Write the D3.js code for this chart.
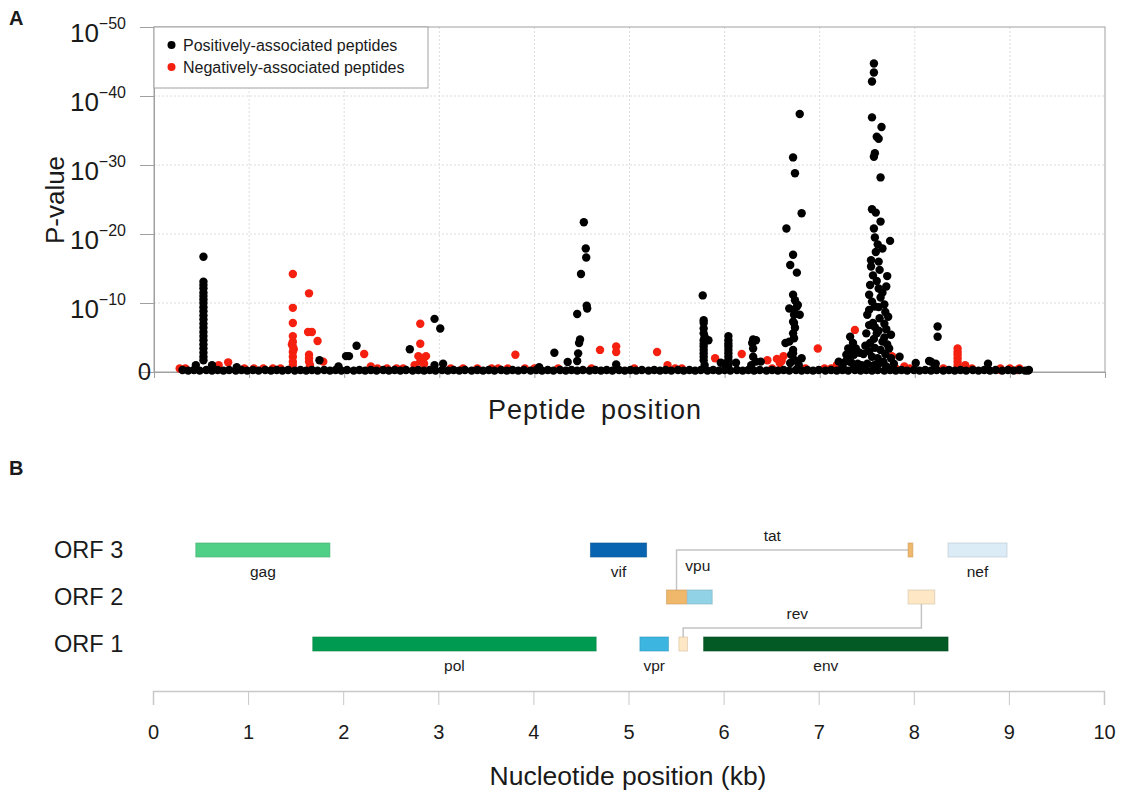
<!DOCTYPE html>
<html>
<head>
<meta charset="utf-8">
<script src="https://cdn.jsdelivr.net/npm/d3@7"></script>
<style>
  body { margin: 0; background: #fff; }
  svg text { font-family: "Liberation Sans", Arial, sans-serif; fill: #1a1a1a; }
</style>
</head>
<body>
<svg id="chart" width="1128" height="797"></svg>
<script>
// Panel A data: [peptide position (kb), -log10 P]
const positivePeaks = [
  [0.52,16.7],[0.52,13.1],[0.52,12.6],[0.52,12.1],[0.52,11.5],[0.52,11.0],[0.52,10.5],[0.52,10.0],
  [0.52,9.4],[0.52,8.8],[0.52,8.2],[0.52,7.6],[0.52,7.0],[0.52,6.4],[0.52,5.8],[0.52,5.2],[0.52,4.6],
  [0.52,4.0],[0.52,3.4],[0.52,2.8],[0.52,2.2],[0.52,1.7],[0.44,1.0],[0.61,1.0],[0.87,0.7],
  [1.74,1.7],[1.94,0.8],[2.02,2.3],[2.05,2.3],[2.13,3.8],[2.69,3.3],[2.95,7.7],[3.01,6.3],[2.95,1.0],[3.04,1.2],
  [4.05,0.7],[4.21,2.8],[4.35,1.45],[4.52,21.7],[4.54,17.9],[4.545,16.6],[4.49,14.2],[4.55,9.6],[4.555,9.2],
  [4.45,8.4],[4.48,4.7],[4.47,4.2],[4.46,2.7],[4.45,1.6],[4.86,1.1],
  [5.77,11.1],[5.78,7.5],[5.78,7.1],[5.78,6.3],[5.78,5.6],[5.79,5.1],[5.83,4.6],[5.78,4.6],[5.78,4.1],
  [5.78,3.7],[5.78,3.2],[5.78,2.7],[5.78,2.2],[5.78,1.7],[5.79,1.0],[5.96,1.35],
  [6.04,5.2],[6.04,4.6],[6.04,4.1],[6.04,3.7],[6.04,3.2],[6.04,2.7],[6.04,2.2],[6.04,1.7],[6.04,1.0],
  [6.12,1.35],[6.00,1.2],
  [6.30,4.7],[6.33,4.6],[6.29,4.2],[6.30,3.4],[6.30,2.2],[6.28,1.0],[6.38,1.5],[6.33,1.5],
  [6.79,37.4],[6.72,31.1],[6.74,28.8],[6.81,23.0],[6.65,20.8],[6.72,17.0],[6.69,15.5],[6.76,14.4],
  [6.72,11.2],[6.74,10.4],[6.77,9.7],[6.76,9.5],[6.68,9.2],[6.73,9.0],[6.79,8.3],[6.73,8.3],[6.72,7.3],
  [6.73,7.1],[6.74,6.4],[6.72,5.6],[6.73,4.9],[6.68,4.4],[6.64,4.2],[6.72,3.2],[6.70,2.5],[6.81,2.0],
  [6.74,1.7],[6.69,1.3],[6.78,1.0],[6.72,2.7],[7.20,1.5],
  [7.57,44.7],[7.57,43.4],[7.55,42.1],[7.55,36.9],[7.65,35.5],[7.60,34.1],[7.62,33.8],[7.58,31.7],
  [7.57,31.2],[7.64,28.2],[7.55,23.6],[7.59,23.1],[7.64,21.8],[7.57,20.8],[7.74,19.0],[7.66,17.9],
  [7.59,17.4],[7.54,16.2],[7.62,16.0],[7.63,14.8],[7.54,15.3],[7.71,13.9],[7.53,12.6],[7.62,12.1],
  [7.70,12.4],[7.52,11.2],[7.64,10.8],[7.58,9.5],[7.62,9.4],[7.69,8.7],[7.72,8.0],[7.50,8.3],[7.56,7.1],
  [7.68,7.0],[7.75,5.4],[7.49,5.6],[7.60,5.6],[7.66,4.4],[7.53,4.2],[7.64,3.2],[7.73,3.4],[7.84,2.2],
  [7.61,2.0],[7.46,2.6],[7.67,1.5],[7.57,1.0],[7.70,0.8],[7.78,1.2],
  [7.58,19.5],[7.61,18.5],[7.56,14.0],[7.60,13.2],[7.66,11.5],[7.55,10.2],[7.68,9.8],[7.52,9.0],
  [7.63,7.8],[7.58,6.5],[7.70,6.2],[7.52,6.8],[7.62,6.0],[7.68,5.0],[7.57,4.8],[7.71,4.0],[7.48,3.8],
  [7.58,3.5],[7.69,2.6],[7.52,3.0],[7.55,2.2],[7.75,2.0],[7.63,1.3],[7.50,1.2],
  [7.32,5.1],[7.35,4.2],[7.30,3.4],[7.38,3.4],[7.28,2.5],[7.36,2.5],[7.42,2.8],[7.27,1.5],[7.33,1.4],
  [7.40,1.2],[7.44,1.0],[7.24,0.8],[7.36,0.7],[7.30,2.0],[7.34,3.0],
  [8.01,1.3],[8.17,1.5],[8.22,1.2],[8.24,6.6],[8.24,5.1],[8.15,1.6],[8.21,0.9],[8.77,1.2],[9.19,0.2]
];

const negativePeaks = [
  [0.68,1.0],[0.78,1.4],
  [1.46,14.2],[1.46,9.3],[1.46,7.1],[1.46,5.2],[1.46,4.4],[1.45,4.0],[1.46,3.7],[1.47,3.3],[1.46,2.9],
  [1.46,2.2],[1.46,1.5],[1.46,1.0],
  [1.63,11.4],[1.62,5.8],[1.66,5.8],[1.63,2.5],[1.63,2.0],[1.63,1.5],[1.64,1.0],
  [1.72,4.5],[1.78,1.5],[2.21,2.6],[2.28,0.8],
  [2.80,7.0],[2.80,4.1],[2.78,2.3],[2.86,2.3],[2.80,1.5],[2.74,1.0],[2.83,1.8],[2.84,1.2],
  [3.80,2.5],[4.69,3.2],[4.86,3.7],[4.86,2.9],[5.29,2.9],[5.40,1.0],[5.90,2.0],[6.18,2.6],[6.45,1.7],
  [6.55,1.9],[6.58,1.3],[6.62,2.3],[6.60,1.6],[6.98,3.4],[7.37,6.1],[7.18,1.0],[7.76,2.3],[7.89,0.8],
  [8.45,3.4],[8.45,2.9],[8.45,2.5],[8.45,2.0],[8.45,1.5],[8.45,1.0],[8.53,1.0],[8.90,0.3],[9.08,0.3]
];

// near-zero peptides forming the dense baseline
const positiveBase = [
  [0.30,0.3],[0.36,0.2],[0.42,0.3],[0.48,0.2],[0.55,0.3],[0.61,0.2],[0.67,0.3],[0.73,0.2],[0.79,0.3],
  [0.86,0.2],[0.92,0.3],[0.98,0.2],[1.04,0.3],[1.10,0.2],[1.17,0.3],[1.23,0.2],[1.29,0.3],[1.35,0.2],
  [1.41,0.3],[1.48,0.2],[1.54,0.3],[1.60,0.2],[1.66,0.3],[1.72,0.2],[1.79,0.3],[1.85,0.2],[1.91,0.3],
  [1.97,0.2],[2.03,0.3],[2.10,0.2],[2.16,0.3],[2.22,0.2],[2.28,0.3],[2.34,0.2],[2.41,0.3],[2.47,0.2],
  [2.53,0.3],[2.59,0.2],[2.65,0.3],[2.72,0.2],[2.78,0.3],[2.84,0.2],[2.90,0.3],[2.96,0.2],[3.03,0.3],
  [3.09,0.2],[3.15,0.3],[3.21,0.2],[3.27,0.3],[3.34,0.2],[3.40,0.3],[3.46,0.2],[3.52,0.3],[3.58,0.2],
  [3.65,0.3],[3.71,0.2],[3.77,0.3],[3.83,0.2],[3.89,0.3],[3.96,0.2],[4.02,0.3],[4.08,0.2],[4.14,0.3],
  [4.20,0.2],[4.27,0.3],[4.33,0.2],[4.39,0.3],[4.45,0.2],[4.51,0.3],[4.58,0.2],[4.64,0.3],[4.70,0.2],
  [4.76,0.3],[4.82,0.2],[4.89,0.3],[4.95,0.2],[5.01,0.3],[5.07,0.2],[5.13,0.3],[5.20,0.2],[5.26,0.3],
  [5.32,0.2],[5.38,0.3],[5.44,0.2],[5.51,0.3],[5.57,0.2],[5.63,0.3],[5.69,0.2],[5.75,0.3],[5.82,0.2],
  [5.88,0.3],[5.94,0.2],[6.00,0.3],[6.06,0.2],[6.13,0.3],[6.19,0.2],[6.25,0.3],[6.31,0.2],[6.37,0.3],
  [6.44,0.2],[6.50,0.3],[6.56,0.2],[6.62,0.3],[6.68,0.2],[6.75,0.3],[6.81,0.2],[6.87,0.3],[6.93,0.2],
  [6.99,0.3],[7.06,0.2],[7.12,0.3],[7.18,0.2],[7.24,0.3],[7.30,0.2],[7.37,0.3],[7.43,0.2],[7.49,0.3],
  [7.55,0.2],[7.61,0.3],[7.68,0.2],[7.74,0.3],[7.80,0.2],[7.86,0.3],[7.92,0.2],[7.99,0.3],[8.05,0.2],
  [8.11,0.3],[8.17,0.2],[8.23,0.3],[8.30,0.2],[8.36,0.3],[8.42,0.2],[8.48,0.3],[8.54,0.2],[8.61,0.3],
  [8.67,0.2],[8.73,0.3],[8.79,0.2],[8.85,0.3],[8.92,0.2],[8.98,0.3],[9.04,0.2],[9.10,0.3],[9.16,0.2],
  [9.20,0.3]
];

const negativeBase = [
  [0.27,0.5],[0.33,0.5],[0.95,0.5],[1.05,0.5],[1.15,0.5],[1.25,0.5],[1.33,0.5],[2.35,0.5],[2.45,0.5],
  [2.55,0.5],[2.62,0.5],[3.12,0.5],[3.25,0.5],[3.40,0.5],[3.55,0.5],[3.62,0.5],[3.72,0.5],[3.90,0.5],
  [4.00,0.5],[4.25,0.5],[4.60,0.5],[5.05,0.5],[5.48,0.5],[5.55,0.5],[6.50,0.5],[6.85,0.5],[7.05,0.5],
  [7.12,0.5],[7.80,0.5],[7.95,0.5],[8.30,0.5],[8.60,0.5],[8.90,0.5],[9.00,0.5],[9.10,0.5]
];

const pTicks = [0, 10, 20, 30, 40, 50];
const legendLabels = ["Positively-associated peptides", "Negatively-associated peptides"];

// Panel B data: HIV genome map (kb)
const orfRows = ["ORF 3", "ORF 2", "ORF 1"];
const geneNames = ["gag", "pol", "vif", "vpr", "tat", "vpu", "rev", "env", "tat", "rev", "nef"];
const geneOrf   = ["ORF 3", "ORF 1", "ORF 3", "ORF 1", "ORF 2", "ORF 2", "ORF 1", "ORF 1", "ORF 3", "ORF 2", "ORF 3"];
const geneStart = [0.45, 1.68, 4.60, 5.12, 5.40, 5.62, 5.53, 5.79, 7.94, 7.94, 8.36];
const geneEnd   = [1.86, 4.66, 5.19, 5.42, 5.61, 5.88, 5.62, 8.36, 7.99, 8.22, 8.98];
const kbTicks = [0, 1, 2, 3, 4, 5, 6, 7, 8, 9, 10];

const geneColor = {
  gag: '#50cf86', pol: '#009b50', vif: '#0864b0', vpr: '#3cb5e0', tat: '#f0b86a',
  vpu: '#92d2e6', rev: '#fde7c4', env: '#045a25', nef: '#dcecf7'
};
const black = '#000', red = '#f5200f';

const svg = d3.select('#chart');

// ---------- Panel A ----------
const x = d3.scaleLinear().domain([0, 10]).range([154, 1105]);
const y = d3.scaleLinear().domain([0, 50]).range([372, 27]);

// grid
svg.append('g').selectAll('line').data(kbTicks.slice(1, -1)).join('line')
  .attr('x1', d => x(d)).attr('x2', d => x(d)).attr('y1', y(50)).attr('y2', y(0))
  .attr('stroke', '#dcdcdc').attr('stroke-dasharray', '2,2');
svg.append('g').selectAll('line').data(pTicks.slice(1, -1)).join('line')
  .attr('x1', x(0)).attr('x2', x(10)).attr('y1', d => y(d)).attr('y2', d => y(d))
  .attr('stroke', '#dcdcdc').attr('stroke-dasharray', '2,2');

// frame
svg.append('rect')
  .attr('x', x(0)).attr('y', y(50)).attr('width', x(10) - x(0)).attr('height', y(0) - y(50))
  .attr('fill', 'none').attr('stroke', '#a0a0a0');

// y axis: exponent labels, the zero sits against the axis without a tick
const yAxis = svg.append('g').attr('transform', `translate(${x(0)},0)`)
  .call(d3.axisLeft(y).tickValues(pTicks).tickSize(14).tickPadding(14));
yAxis.select('.domain').attr('stroke', '#a0a0a0');
yAxis.selectAll('.tick line').attr('stroke', '#a0a0a0').filter(d => d === 0).remove();
yAxis.selectAll('.tick text').each(function(d) {
  const t = d3.select(this).text(null).attr('font-size', 26).attr('fill', '#1a1a1a');
  if (d === 0) { t.attr('x', -3).attr('font-size', 24).text('0'); return; }
  t.attr('dy', '0.55em');
  t.append('tspan').text('10');
  t.append('tspan').attr('dy', -13).attr('font-size', 16).text('\u2212' + d);
});

// x axis (no labels)
const xAxis = svg.append('g').attr('transform', `translate(0,${y(0)})`)
  .call(d3.axisBottom(x).tickValues(kbTicks).tickSize(6).tickFormat(''));
xAxis.select('.domain').attr('stroke', '#a0a0a0');
xAxis.selectAll('.tick line').attr('stroke', '#a0a0a0');

// points
const r = 4.2;
function dots(data, color) {
  svg.append('g').selectAll('circle').data(data).join('circle')
    .attr('cx', d => x(d[0])).attr('cy', d => y(d[1])).attr('r', r).attr('fill', color);
}
dots(negativeBase, red);
dots(negativePeaks, red);
dots(positiveBase, black);
dots(positivePeaks, black);

// legend
const lg = svg.append('g');
lg.append('rect').attr('x', x(0)).attr('y', y(50)).attr('width', 274).attr('height', 61)
  .attr('fill', '#fff').attr('stroke', '#a0a0a0');
legendLabels.forEach((lab, i) => {
  lg.append('circle').attr('cx', 171.5).attr('cy', 45 + i * 22).attr('r', 4).attr('fill', i ? red : black);
  lg.append('text').attr('x', 183).attr('y', 50.5 + i * 22).attr('font-size', 16).text(lab);
});

svg.append('text').attr('transform', 'translate(64,200) rotate(-90)')
  .attr('text-anchor', 'middle').attr('font-size', 26).text('P-value');
svg.append('text').attr('x', 595).attr('y', 419).attr('text-anchor', 'middle')
  .attr('font-size', 27).attr('letter-spacing', 1).attr('word-spacing', 6).text('Peptide position');
svg.append('text').attr('x', 9).attr('y', 25).attr('font-size', 20).attr('font-weight', 'bold').text('A');
svg.append('text').attr('x', 9).attr('y', 475).attr('font-size', 20).attr('font-weight', 'bold').text('B');

// ---------- Panel B ----------
const xb = d3.scaleLinear().domain([0, 10]).range([153, 1104]);
const row = d3.scalePoint().domain(orfRows).range([550, 644]);
const barH = 14;

// axis
const bAxis = svg.append('g').attr('transform', 'translate(0,691)')
  .call(d3.axisBottom(xb).tickValues(kbTicks).tickSize(14).tickSizeOuter(14).tickPadding(20));
bAxis.select('.domain').attr('stroke', '#c8c8c8').attr('stroke-width', 1.5);
bAxis.selectAll('.tick line').attr('stroke', '#c8c8c8');
bAxis.selectAll('.tick text').attr('font-size', 20).attr('fill', '#2a2a2a');

svg.append('text').attr('x', 628).attr('y', 785).attr('text-anchor', 'middle')
  .attr('font-size', 26.5).text('Nucleotide position (kb)');

svg.append('g').selectAll('text').data(orfRows).join('text')
  .attr('x', 54).attr('y', d => row(d)).attr('dy', '0.35em')
  .attr('font-size', 23.5).attr('fill', '#2a2a2a').text(d => d);

// splice connectors (tat: exons 4 -> 8, rev: exons 6 -> 9)
const conn = svg.append('g').attr('fill', 'none').attr('stroke', '#c4c4c4').attr('stroke-width', 1.5);
const tatX = (geneStart[4] + geneEnd[4]) / 2;
conn.append('path').attr('d',
  `M${xb(tatX)},${row('ORF 2') - barH / 2}V${row('ORF 3')}H${xb(geneStart[8])}`);
const revX1 = (geneStart[6] + geneEnd[6]) / 2, revX2 = (geneStart[9] + geneEnd[9]) / 2;
const revY = row('ORF 1') - 16;
conn.append('path').attr('d',
  `M${xb(revX2)},${row('ORF 2') + barH / 2}V${revY}H${xb(revX1)}V${row('ORF 1') - barH / 2}`);

// gene bars
const genes = geneNames.map((n, i) => ({ name: n, orf: geneOrf[i], s: geneStart[i], e: geneEnd[i] }));
svg.append('g').selectAll('rect').data(genes).join('rect')
  .attr('x', d => xb(d.s)).attr('y', d => row(d.orf) - barH / 2)
  .attr('width', d => xb(d.e) - xb(d.s)).attr('height', barH)
  .attr('fill', d => geneColor[d.name])
  .attr('stroke', d => d3.color(geneColor[d.name]).darker(0.5)).attr('stroke-opacity', 0.6);

// gene labels
const gl = svg.append('g').attr('font-size', 15.5).attr('text-anchor', 'middle');
genes.forEach(d => {
  if (d.name === 'tat' || d.name === 'rev') return;
  const cx = xb((d.s + d.e) / 2);
  const above = d.name === 'vpu';
  gl.append('text').attr('x', above ? cx - 2 : cx)
    .attr('y', above ? row(d.orf) - 31 : row(d.orf) + 22).attr('dy', '0.35em')
    .attr('fill', '#333').text(d.name);
});
gl.append('text').attr('x', (xb(tatX) + xb(geneStart[8])) / 2 - 20).attr('y', row('ORF 3') - 14)
  .attr('dy', '0.35em').attr('fill', '#333').text('tat');
gl.append('text').attr('x', (xb(revX1) + xb(revX2)) / 2 - 5).attr('y', revY - 14)
  .attr('dy', '0.35em').attr('fill', '#333').text('rev');
</script>
</body>
</html>
